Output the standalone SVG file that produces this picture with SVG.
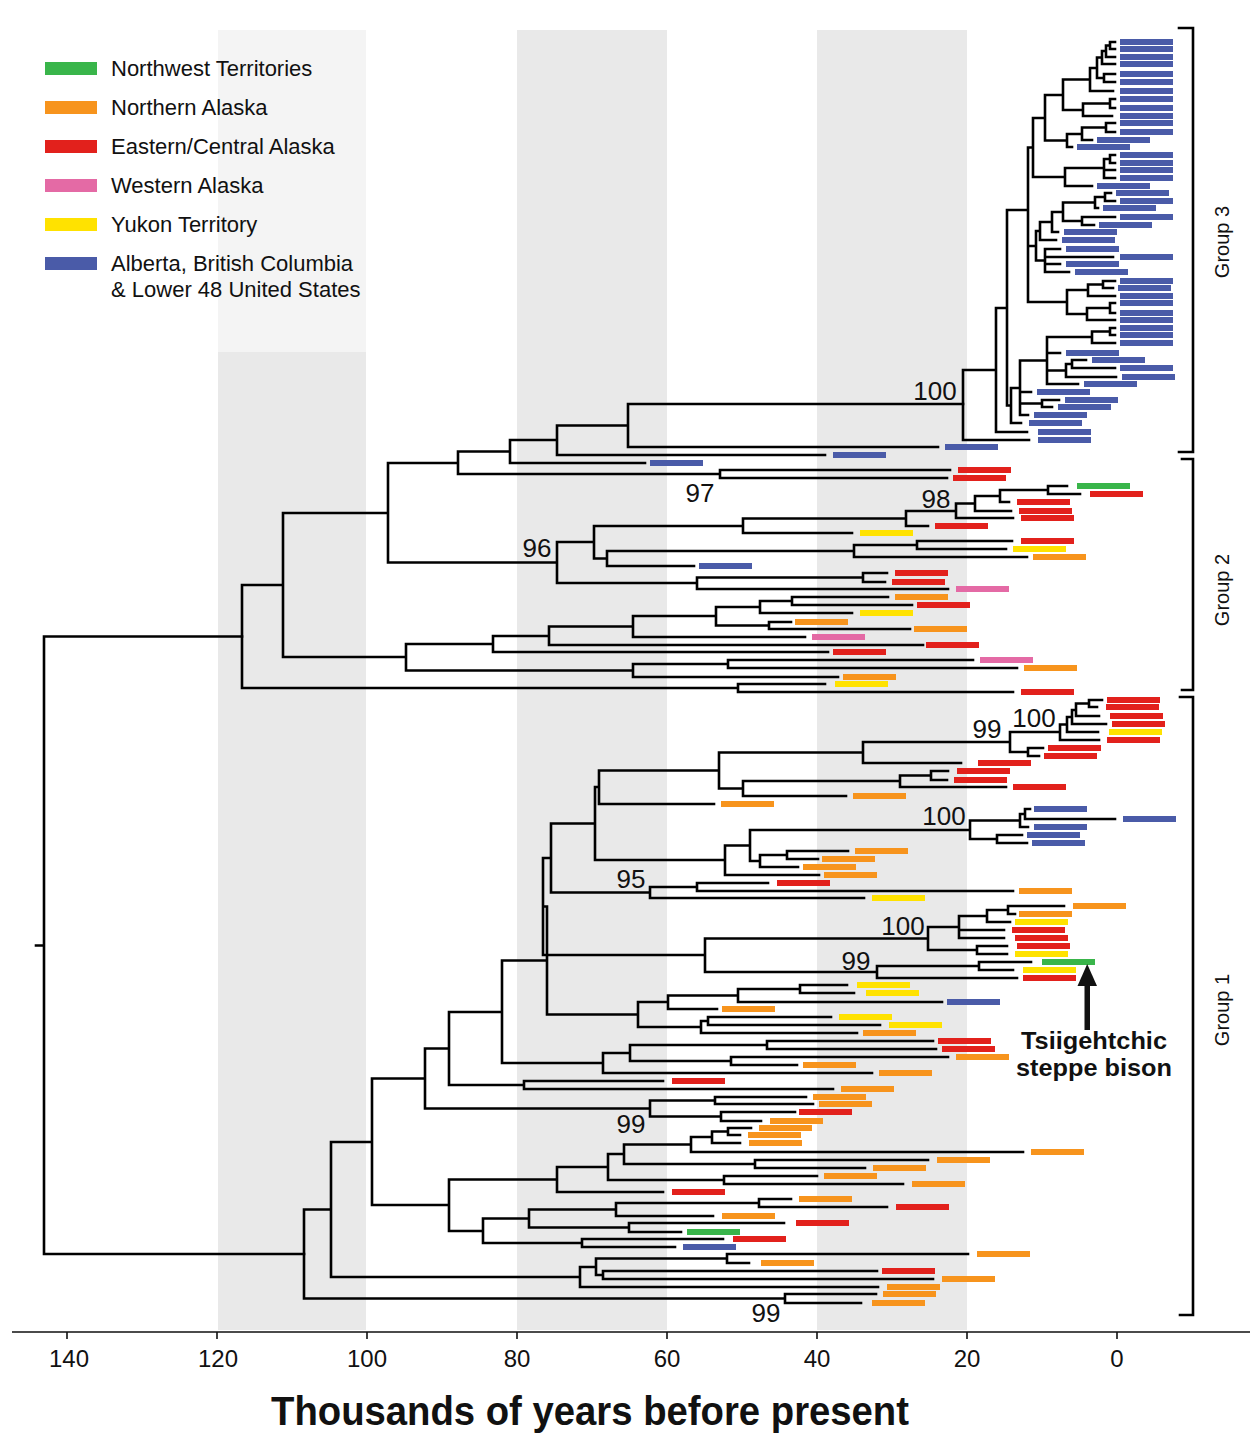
<svg xmlns="http://www.w3.org/2000/svg" width="1250" height="1440" viewBox="0 0 1250 1440">
<style>
.t{fill:none;stroke:#000;stroke-width:2.6;stroke-linejoin:miter;stroke-linecap:square}
.b{fill:none;stroke-width:6}
.bl{stroke:#4a5ba8}.rd{stroke:#e2211c}.gr{stroke:#39b54a}.pk{stroke:#e46aa5}.yl{stroke:#ffe200}.or{stroke:#f7941d}
text{font-family:"Liberation Sans",Arial,sans-serif;fill:#111}
.lg{font-size:22px}
.sup{font-size:26px;text-anchor:middle}
.ax{font-size:24px;text-anchor:middle}
.grp{font-size:20px;text-anchor:middle}
</style>
<rect width="1250" height="1440" fill="#fff"/>
<g id="bands">
<rect x="218" y="30" width="148" height="322" fill="#f4f4f4"/>
<rect x="218" y="352" width="148" height="978" fill="#e9e9e9"/>
<rect x="517" y="30" width="150" height="1300" fill="#e9e9e9"/>
<rect x="817" y="30" width="150" height="1300" fill="#e9e9e9"/>
</g>
<g id="legend">
<rect x="45" y="62" width="52" height="13" fill="#39b54a"/>
<rect x="45" y="101" width="52" height="13" fill="#f7941d"/>
<rect x="45" y="140" width="52" height="13" fill="#e2211c"/>
<rect x="45" y="179" width="52" height="13" fill="#e46aa5"/>
<rect x="45" y="218" width="52" height="13" fill="#ffe200"/>
<rect x="45" y="257" width="52" height="13" fill="#4a5ba8"/>
<text class="lg" x="111" y="76">Northwest Territories</text>
<text class="lg" x="111" y="115">Northern Alaska</text>
<text class="lg" x="111" y="154">Eastern/Central Alaska</text>
<text class="lg" x="111" y="193">Western Alaska</text>
<text class="lg" x="111" y="232">Yukon Territory</text>
<text class="lg" x="111" y="271">Alberta, British Columbia</text>
<text class="lg" x="111" y="297">&amp; Lower 48 United States</text>
</g>
<g id="connectors">
<path id="group3-tree" class="t" d="M1115 42H1110V49H1115M1110 45.5H1106V57H1115M1106 51H1102V64H1115M1115 74H1104V82H1115M1102 57.5H1097V78H1104M1097 68H1090V91H1113M1115 99H1110V108H1115M1110 103.5H1083V116H1112M1090 79.5H1063V110H1083M1115 123H1106V132H1115M1106 127.5H1082V140H1092M1082 134H1067V147H1072M1063 95H1045V140.5H1067M1115 155H1110V163H1115M1110 159H1104V178H1115M1104 170H1115M1104 168H1065V186H1092M1045 118H1033V177H1065M1111 193H1105V201H1115M1105 197H1095V208H1098M1115 217H1082V225H1094M1095 202.5H1063V221H1082M1063 212H1052V232H1058M1052 222H1040V240H1056M1060 249H1045V272H1069M1045 257H1113M1045 264H1060M1040 231H1036V260.5H1045M1115 281H1103V288H1113M1103 284.5H1088V296H1115M1115 303H1110V313H1115M1110 308H1087V320H1115M1088 290H1067V314H1087M1033 147.5H1028V302H1067M1028 246H1036M1115 328H1110V335H1115M1110 331.5H1092V343H1115M1086 360H1072V368H1115M1072 364H1066V377H1116M1092 337H1047V384H1078M1047 353H1060M1047 370.5H1066M1059 400H1042V407H1052M1047 360.5H1020V415H1028M1020 392H1031M1020 403.5H1042M1020 388H1011V423H1021M1028 210H1007V405.5H1011M1007 308H996V432H1027M996 370H963V440H1029"/>
<path id="group2-tree" class="t" d="M963 404H628V447H938M628 425.5H557V455H825M557 440H510V463H645M950 470H720V478H947M510 451.5H458V474H720M1067 486H1048V494H1080M1048 490H1000V502H1009M1000 496H975V511H1011M975 503.5H956V518H1013M956 511H906V526H928M906 518.5H743V533H852M1012 541H917V549H1006M917 545H854V557H1027M854 551H607V566H694M743 526H594V558.5H607M887 573H863V582H885M863 577.5H697V589H948M594 542H557V583H697M458 463H388V562.5H557M888 597H792V605H912M792 601H760V613H852M791 622H769V629H910M760 607H716V625.5H769M716 616H633V637H805M633 626.5H549V645H923M549 636H493V652H828M973 660H728V668H1017M728 664H633V677H838M493 644H406V670.5H633M388 513H283V657H406M825 684H738V692H1013M283 585H242V688H738"/>
<path id="root" class="t" d="M242 636.5H44V1254H304M36 945.5H44"/>
<path id="group1-tree" class="t" d="M1102 700H1089V707H1097M1089 703.5H1076V716H1099M1076 710H1072V724H1106M1072 717H1067V732H1098M1067 724.5H1060V740H1099M1043 748H1028V756H1039M1060 732H1010V752H1028M1010 742H863V763H961M948 771H931V780H947M931 775.5H900V787H1006M900 781H743V796H846M863 752.5H719V788.5H743M719 770.5H599V804H714M1030 809H1025V819H1115M1025 814H1020V827H1028M1022 835H997V843H1027M1020 820.5H970V839H997M848 851H787V859H818M787 855H760V867H798M970 830H750V861H760M750 845.5H725V875H819M599 787H595V860H725M768 883H697V891H1013M697 887H650V898H864M595 823.5H551V892.5H650M1064 906H1008V914H1015M1008 910H987V922H1010M987 916H959V938H1004M959 930H1004M1007 946H977V954H1007M959 927H928V950H977M1031 962H979V970H1013M979 966H877V978H1017M928 938.5H705V972H877M551 858H543V955H705M847 985H800V993H854M800 989H738V1002H942M738 995.5H668V1009H717M831 1017H708V1025H880M708 1021H701V1033H857M668 1002H638V1027H701M543 906.5H547V1014.5H638M933 1041H767V1049H936M948 1057H731V1065H797M767 1045H630V1061H731M630 1053H603V1073H872M547 960.5H502V1063H603M663 1081H524V1089H833M502 1012H449V1085H524M806 1097H715V1104H813M795 1112H721V1121H761M715 1100.5H650V1116.5H721M449 1048.5H425V1108.5H650M751 1128H728V1135H740M728 1131.5H712V1143H740M712 1137H691V1152H1023M928 1160H755V1168H865M691 1144.5H624V1164H755M817 1176H724V1184H903M624 1154H608V1180H724M608 1167H557V1192H663M791 1199H759V1207H887M759 1203H616V1216H713M784 1223H629V1232H681M616 1209.5H529V1227.5H629M723 1239H582V1247H675M529 1218.5H483V1243H582M557 1179.5H449V1231H483M425 1078.5H372V1205H449M968 1254H727V1263H749M877 1271H603V1279H933M727 1258.5H596V1275H603M596 1267H580V1287H878M372 1142H331V1277H580M876 1294H785V1303H861M331 1209.5H304V1298.5H785"/>
</g>
<g id="tips">
<path class="b bl" d="M1120 42h53M1120 49h53M1120 57h53M1120 64h53M1120 74h53M1120 82h53M1120 91h53M1120 99h53M1120 108h53M1120 116h53M1120 123h53M1120 132h53M1097 140h53M1077 147h53M1120 155h53M1120 163h53M1120 170h53M1120 178h53M1097 186h53M1116 193h53M1120 201h53M1103 208h53M1120 217h53M1099 225h53M1064 232h53M1062 240h53M1066 249h53M1120 257h53M1066 264h53M1075 272h53M1120 281h53M1118 288h53M1120 296h53M1120 303h53M1120 313h53M1120 320h53M1120 328h53M1120 335h53M1120 343h53M1066 353h53M1092 360h53M1120 368h53M1122 377h53M1084 384h53M1037 392h53M1065 400h53M1058 407h53M1034 415h53M1029 423h53M1038 432h53M1038 440h53M945 447h53M833 455h53M650 463h53M699 566h53M1034 809h53M1123 819h53M1034 827h53M1027 835h53M1032 843h53M947 1002h53M683 1247h53"/>
<path class="b rd" d="M958 470h53M953 478h53M1090 494h53M1017 502h53M1019 511h53M1021 518h53M935 526h53M1021 541h53M895 573h53M892 582h53M917 605h53M926 645h53M833 652h53M1021 692h53M1107 700h53M1106 707h53M1110 716h53M1112 724h53M1107 740h53M1048 748h53M1044 756h53M978 763h53M957 771h53M954 780h53M1013 787h53M777 883h53M1012 930h53M1015 938h53M1017 946h53M1023 978h53M938 1041h53M942 1049h53M672 1081h53M799 1112h53M672 1192h53M896 1207h53M796 1223h53M733 1239h53M882 1271h53"/>
<path class="b gr" d="M1077 486h53M1042 962h53M687 1232h53"/>
<path class="b pk" d="M956 589h53M812 637h53M980 660h53"/>
<path class="b yl" d="M860 533h53M1013 549h53M860 613h53M835 684h53M1109 732h53M872 898h53M1015 922h53M1015 954h53M1023 970h53M857 985h53M866 993h53M839 1017h53M889 1025h53"/>
<path class="b or" d="M1033 557h53M895 597h53M795 622h53M914 629h53M1024 668h53M843 677h53M853 796h53M721 804h53M855 851h53M822 859h53M803 867h53M824 875h53M1019 891h53M1073 906h53M1019 914h53M722 1009h53M863 1033h53M956 1057h53M803 1065h53M879 1073h53M841 1089h53M813 1097h53M819 1104h53M770 1121h53M759 1128h53M748 1135h53M749 1143h53M1031 1152h53M937 1160h53M873 1168h53M824 1176h53M912 1184h53M799 1199h53M722 1216h53M977 1254h53M761 1263h53M942 1279h53M887 1287h53M883 1294h53M872 1303h53"/>
</g>
<g id="support-values">
<text class="sup" x="935" y="400">100</text>
<text class="sup" x="700" y="502">97</text>
<text class="sup" x="936" y="508">98</text>
<text class="sup" x="537" y="557">96</text>
<text class="sup" x="1034" y="727">100</text>
<text class="sup" x="987" y="738">99</text>
<text class="sup" x="944" y="825">100</text>
<text class="sup" x="631" y="888">95</text>
<text class="sup" x="903" y="935">100</text>
<text class="sup" x="856" y="970">99</text>
<text class="sup" x="631" y="1133">99</text>
<text class="sup" x="766" y="1322">99</text>
</g>
<g id="group-brackets">
<path class="t" d="M1179 28H1193V452H1179M1182 459H1193V690H1182M1180 697H1193V1315H1180"/>
<text class="grp" transform="translate(1229 242) rotate(-90)">Group 3</text>
<text class="grp" transform="translate(1229 590) rotate(-90)">Group 2</text>
<text class="grp" transform="translate(1229 1010) rotate(-90)">Group 1</text>
</g>
<g id="tsiigehtchic-callout">
<rect x="1084.5" y="982" width="5.5" height="48" fill="#111"/>
<polygon points="1087.2,964 1097,986 1077.5,986" fill="#111"/>
<text x="1094" y="1049" font-size="24" font-weight="bold" text-anchor="middle" textLength="146" lengthAdjust="spacingAndGlyphs">Tsiigehtchic</text>
<text x="1094" y="1076" font-size="24" font-weight="bold" text-anchor="middle" textLength="156" lengthAdjust="spacingAndGlyphs">steppe bison</text>
</g>
<g id="axis">
<path d="M12 1332H1250M67 1332v7M217 1332v7M367 1332v7M517 1332v7M667 1332v7M817 1332v7M967 1332v7M1117 1332v7" stroke="#111" stroke-width="1.6" fill="none"/>
<text class="ax" x="69" y="1367">140</text>
<text class="ax" x="218" y="1367">120</text>
<text class="ax" x="367" y="1367">100</text>
<text class="ax" x="517" y="1367">80</text>
<text class="ax" x="667" y="1367">60</text>
<text class="ax" x="817" y="1367">40</text>
<text class="ax" x="967" y="1367">20</text>
<text class="ax" x="1117" y="1367">0</text>
<text x="590" y="1425" font-size="40" font-weight="bold" text-anchor="middle" textLength="638" lengthAdjust="spacingAndGlyphs">Thousands of years before present</text>
</g>
</svg>
